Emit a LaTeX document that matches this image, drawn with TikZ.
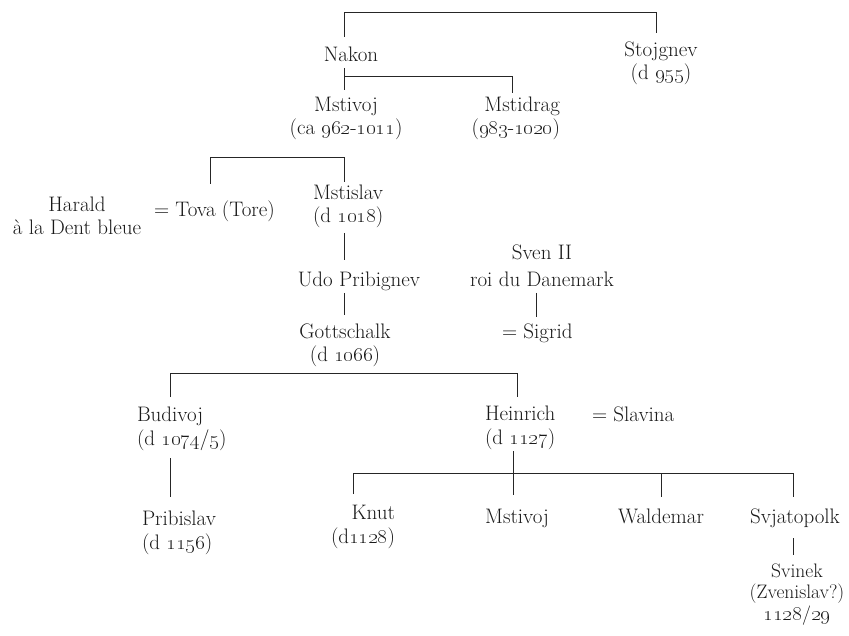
\documentclass[tikz,border=0pt]{standalone}
\usetikzlibrary{calc}
\newcommand\oldnum[1]{\oldstylenums{#1}}
\begin{document}
\begin{tikzpicture}[x=1pt,y=-1pt,
  every node/.style={inner sep=0pt, outer sep=0pt, text=black!90,
    font=\fontsize{21}{23.5}\selectfont, anchor=base},
  lbl/.style={align=center},
  lft/.style={align=left, anchor=base west},
  rgt/.style={align=right, anchor=base east},
  link/.style={draw=black!85, line width=0.9pt}]
\useasboundingbox (0,0) rectangle (849,636);
\coordinate (trunk) at (344,0);
% people (multi-line nodes are placed by the baseline of their last line)
\node[lbl] (nakon) at (351,62) {Nakon};
\node[lbl] (stoj) at (661,80) {Stojgnev\\(d \oldnum{955})};
\node[lbl] (mstivoj) at (346,135) {Mstivoj\\(ca \oldnum{962}-\oldnum{1011})};
\node[rgt] (mstidrag) at (560,135) {Mstidrag\\(\oldnum{983}-\oldnum{1020})};
\node[lbl] (harald) at (77,235) {Harald\\à la Dent bleue};
\node[lft] (tova) at (154,217) {= Tova (Tore)};
\node[lft] (mstislav) at (313,223) {Mstislav\\(d \oldnum{1018})};
\node[lbl] (udo) at (359,287) {Udo Pribignev};
\node[lbl, font=\fontsize{21}{27.5}\selectfont] (sven) at (542,287) {Sven II\\roi du Danemark};
\node[lft] (sigrid) at (502,338) {= Sigrid};
\node[lbl] (gott) at (345,362) {Gottschalk\\(d \oldnum{1066})};
\node[lft] (budivoj) at (137,445) {Budivoj\\(d \oldnum{1074}/\oldnum{5})};
\node[lft] (heinrich) at (485,444) {Heinrich\\(d \oldnum{1127})};
\node[lft] (slavina) at (592,421) {= Slavina};
\node[lft] (pribislav) at (142,549) {Pribislav\\(d \oldnum{1156})};
\node[rgt] (knut) at (395,543) {Knut\\(d\oldnum{1128})};
\node[lbl] (mstivojb) at (517,523) {Mstivoj};
\node[lbl] (waldemar) at (661,523) {Waldemar};
\node[lbl] (svjat) at (795,523) {Svjatopolk};
\node[lbl, font=\fontsize{19.5}{21.5}\selectfont] (svinek) at (797,620) {Svinek\\(Zvenislav?)\\\oldnum{1128}/\oldnum{29}};
% connectors
\draw[link] ($(nakon.base -| trunk)+(0,-25)$) |- ($(stoj.base)+(-5,-68)$) -- ($(stoj.base)+(-5,-47)$);
\draw[link] ($(nakon.base -| trunk)+(0,6)$) -- ($(mstivoj.base -| trunk)+(0,-45)$);
\draw[link] ($(nakon.base -| trunk)+(0,14)$) -| ($(mstidrag.base east)+(-48,-42)$);
\draw[link] ($(tova.base west)+(56,-33)$) |- ($(mstislav.base west -| trunk)+(0,-66)$) -- ($(mstislav.base west -| trunk)+(0,-41)$);
\draw[link] ($(mstislav.base west -| trunk)+(0,10)$) -- ($(udo.base -| trunk)+(0,-27)$);
\draw[link] ($(udo.base -| trunk)+(0,6)$) -- ($(gott.base -| trunk)+(0,-47)$);
\draw[link] ($(sven.base)+(-6,6)$) -- ($(sigrid.base west)+(34,-21)$);
\draw[link] ($(budivoj.base west)+(33,-48)$) |- ($(heinrich.base west)+(32,-71)$) -- ($(heinrich.base west)+(32,-47)$);
\draw[link] ($(budivoj.base west)+(33,13)$) -- ($(pribislav.base west)+(28,-52)$);
\draw[link] ($(heinrich.base west)+(28,7)$) -- ($(mstivojb.base)+(-4,-28)$);
\draw[link] ($(knut.base east)+(-42,-49)$) |- ($(svjat.base)+(-2,-50)$) -- ($(svjat.base)+(-2,-26)$);
\draw[link] ($(waldemar.base)+(0,-50)$) -- ($(waldemar.base)+(0,-26)$);
\draw[link] ($(svjat.base)+(-2,15)$) -- ($(svinek.base)+(-4,-65)$);
\end{tikzpicture}
\end{document}
